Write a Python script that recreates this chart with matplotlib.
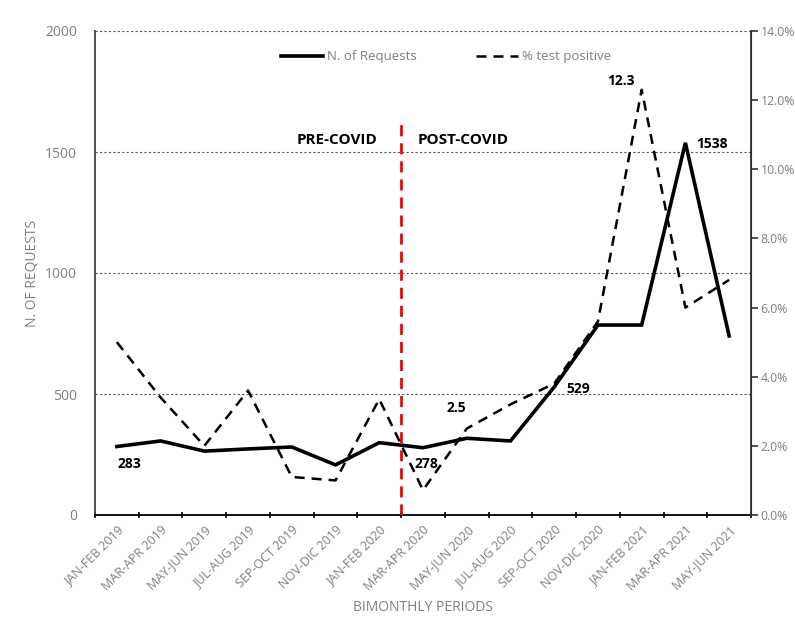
import matplotlib
matplotlib.use("Agg")
import matplotlib.pyplot as plt
from matplotlib.ticker import FuncFormatter, FixedLocator

periods = ["JAN-FEB 2019", "MAR-APR 2019", "MAY-JUN 2019", "JUL-AUG 2019",
           "SEP-OCT 2019", "NOV-DIC 2019", "JAN-FEB 2020", "MAR-APR 2020",
           "MAY-JUN 2020", "JUL-AUG 2020", "SEP-OCT 2020", "NOV-DIC 2020",
           "JAN-FEB 2021", "MAR-APR 2021", "MAY-JUN 2021"]
requests = [283, 306, 264, 273, 281, 207, 299, 278, 317, 306, 529, 785, 785, 1538, 740]
pct_positive = [5.0, 3.4, 2.0, 3.6, 1.1, 1.0, 3.35, 0.72, 2.5, 3.2, 3.8, 5.6, 12.3, 6.0, 6.8]

plt.rcParams['font.family'] = ['Open Sans', 'DejaVu Sans']
gray = '#7f7f7f'

fig = plt.figure(figsize=(7.95, 6.21), dpi=100)
ax = fig.add_axes([95/795, 1-515/621, (751-95)/795, (515-31)/621])
ax2 = ax.twinx()

x = list(range(len(periods)))
ax.plot(x, requests, color='black', lw=2.6, solid_joinstyle='miter', label='N. of Requests', zorder=4)
ax2.plot(x, pct_positive, color='black', lw=1.8, linestyle=(0, (4, 2.8)), label='% test positive', zorder=4)

ax.set_xlim(-0.5, len(periods) - 0.5)
ax.set_ylim(0, 2000)
ax2.set_ylim(0, 14)

ax.set_yticks([0, 500, 1000, 1500, 2000])
ax.yaxis.grid(True, linestyle=(0, (2, 2)), color='#555555', lw=0.8)
ax.set_axisbelow(True)
ax.tick_params(axis='y', length=0, labelcolor=gray, labelsize=10, pad=13)

ax2.set_yticks([0, 2, 4, 6, 8, 10, 12, 14])
ax2.yaxis.set_major_formatter(FuncFormatter(lambda v, p: f"{v:.1f}%"))
ax2.tick_params(axis='y', length=5, width=1.2, color='#333333', labelcolor=gray, labelsize=8.8, pad=2)

ax.set_xticks(x)
ax.set_xticklabels(periods, rotation=45, ha='right', rotation_mode='anchor', color=gray, fontsize=9)
ax.tick_params(axis='x', length=0, pad=6)
ax.xaxis.set_minor_locator(FixedLocator([i - 0.5 for i in range(len(periods) + 1)]))
ax.tick_params(axis='x', which='minor', length=5, width=1.2, color='black', direction='inout')

for a in (ax, ax2):
    a.spines['top'].set_visible(False)
ax.spines['left'].set_color('#444444')
ax.spines['left'].set_linewidth(1.3)
ax2.spines['left'].set_visible(False)
ax2.spines['right'].set_color('#333333')
ax2.spines['right'].set_linewidth(1.3)
ax.spines['bottom'].set_color('black')
ax.spines['bottom'].set_linewidth(1.3)
ax2.spines['bottom'].set_visible(False)

ax.set_ylabel('N. OF REQUESTS', color=gray, fontsize=10, labelpad=4)
ax.set_xlabel('BIMONTHLY PERIODS', color=gray, fontsize=10, labelpad=5)

# COVID divider
ax.axvline(6.5, ymin=0, ymax=(515-118)/484, color='red', lw=2, linestyle=(0, (4, 2.5)), zorder=5)
ax.text(5.95, 1550, 'PRE-COVID', ha='right', va='center', fontsize=11, fontweight='bold')
ax.text(6.88, 1550, 'POST-COVID', ha='left', va='center', fontsize=11, fontweight='bold')

# data labels
lab_kw = dict(textcoords='offset pixels', fontsize=10, fontweight='bold', ha='center', va='center')
ax.annotate(f"{requests[0]}", (0, requests[0]), xytext=(13, -17), **lab_kw)
ax.annotate(f"{requests[7]}", (7, requests[7]), xytext=(3, -16), **lab_kw)
ax.annotate(f"{requests[10]}", (10, requests[10]), xytext=(24, -2), **lab_kw)
ax.annotate(f"{requests[13]}", (13, requests[13]), xytext=(27, -1), **lab_kw)
ax2.annotate(f"{pct_positive[8]}", (8, pct_positive[8]), xytext=(-10, 21), **lab_kw)
ax2.annotate(f"{pct_positive[12]}", (12, pct_positive[12]), xytext=(-21, 9), **lab_kw)

# legend
h1, l1 = ax.get_legend_handles_labels()
h2, l2 = ax2.get_legend_handles_labels()
leg = ax2.legend(h1 + h2, l1 + l2, loc='upper center', bbox_to_anchor=(0.535, 0.985), ncol=2,
                 frameon=False, fontsize=9.5, handlelength=3.2, columnspacing=4.5, handletextpad=0.3)
for t in leg.get_texts():
    t.set_color(gray)

fig.savefig('out.png', dpi=100)
